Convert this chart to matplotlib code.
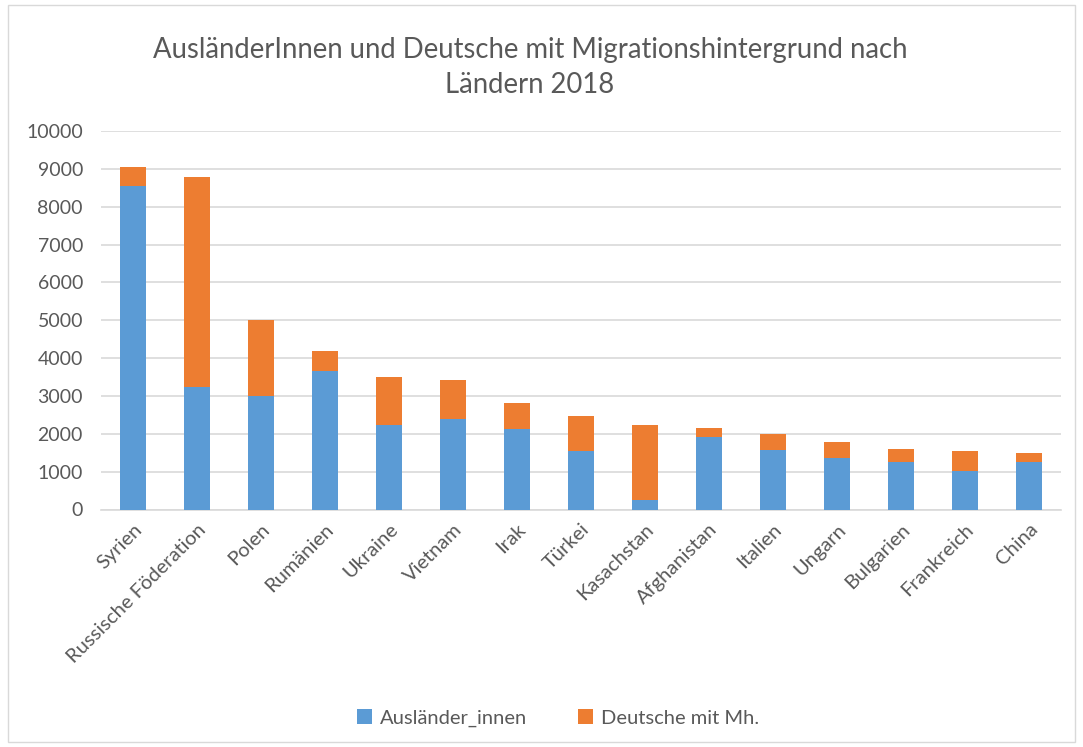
import matplotlib
matplotlib.use("Agg")
import matplotlib.pyplot as plt
from matplotlib.patches import Rectangle
import numpy as np

categories = ["Syrien", "Russische Föderation", "Polen", "Rumänien", "Ukraine", "Vietnam",
              "Irak", "Türkei", "Kasachstan", "Afghanistan", "Italien", "Ungarn",
              "Bulgarien", "Frankreich", "China"]
auslaender = [8540, 3225, 2987, 3664, 2228, 2395, 2115, 1549, 246, 1919, 1560, 1364, 1242, 1004, 1242]
totals = [9050, 8780, 5012, 4185, 3497, 3426, 2818, 2466, 2228, 2149, 1998, 1787, 1594, 1549, 1480]
deutsche_mh = [t - a for t, a in zip(totals, auslaender)]
yticks = list(range(0, 10001, 1000))

plt.rcParams['font.family'] = ['Lato', 'DejaVu Sans']
txt = '#595959'
fig = plt.figure(figsize=(10.83, 7.47), dpi=100)
ax = fig.add_axes([101/1083, 1-509.5/747, 960/1083, (509.5-131)/747])

x = np.arange(len(categories))
ax.bar(x, auslaender, width=0.4, color='#5B9BD5', label='Ausländer_innen', zorder=3)
ax.bar(x, deutsche_mh, width=0.4, bottom=auslaender, color='#ED7D31', label='Deutsche mit Mh.', zorder=3)

ax.set_xlim(-0.5, len(categories) - 0.5)
ax.set_ylim(0, 10000)
ax.set_yticks(yticks)
ax.set_yticklabels([str(v) for v in yticks], fontsize=14, color=txt)
ax.set_xticks(x)
ax.set_xticklabels(categories, rotation=45, ha='right', rotation_mode='anchor', fontsize=14.5, color=txt)
ax.tick_params(axis='y', length=0, pad=13)
ax.tick_params(axis='x', length=0, pad=8)
ax.grid(axis='y', color='#d9d9d9', linewidth=1.2, zorder=0)
for s in ['top', 'right', 'left']:
    ax.spines[s].set_visible(False)
ax.spines['bottom'].set_color('#d9d9d9')
ax.spines['bottom'].set_linewidth(1.2)

fig.text(530/1083, 1-50/747, "AusländerInnen und Deutsche mit Migrationshintergrund nach",
         ha='center', va='center', fontsize=19.8, color=txt)
fig.text(530/1083, 1-85/747, "Ländern 2018", ha='center', va='center', fontsize=19.8, color=txt)

leg = fig.legend(loc='center', bbox_to_anchor=(558/1083, 1-718/747), ncol=2, frameon=False,
                 fontsize=14.5, handlelength=0.75, handleheight=0.75, columnspacing=2.5, handletextpad=0.4)
for t in leg.get_texts():
    t.set_color(txt)

fig.patches.append(Rectangle((8/1083, 5/747), 1067/1083, 737/747, transform=fig.transFigure,
                             fill=False, edgecolor='#d9d9d9', linewidth=1))

fig.savefig('out.png', dpi=100)
